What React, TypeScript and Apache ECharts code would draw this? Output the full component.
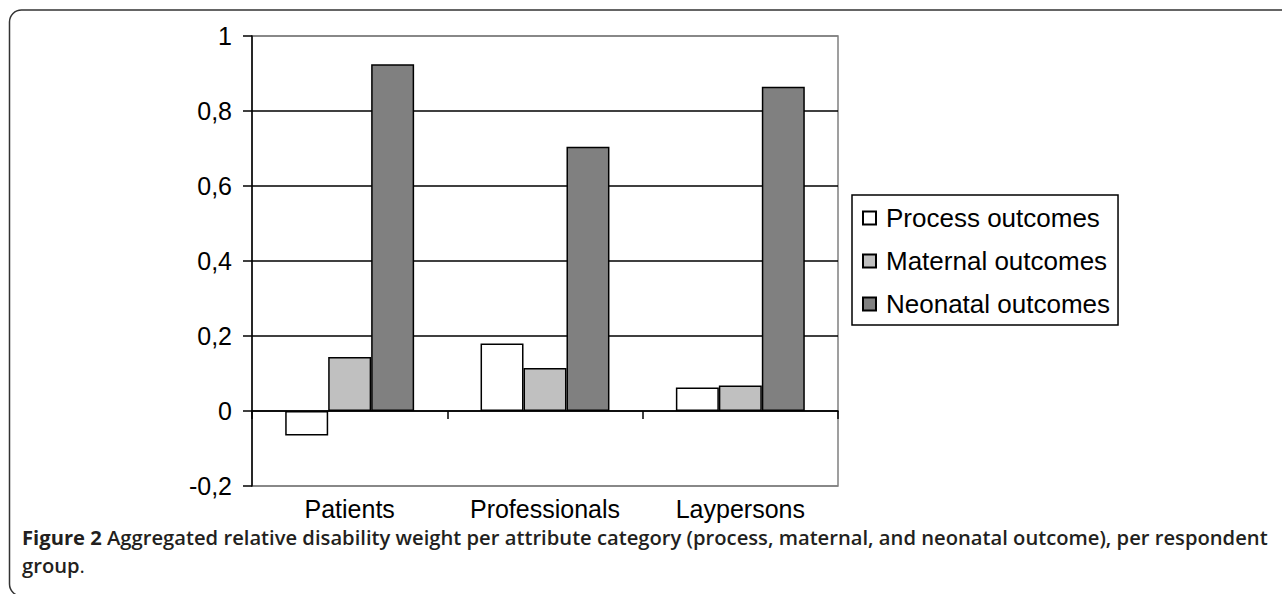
import React, { useEffect, useRef } from "react";
import * as echarts from "echarts";

const categories = ["Patients", "Professionals", "Laypersons"];
const seriesNames = ["Process outcomes", "Maternal outcomes", "Neonatal outcomes"];
const processValues = [-0.065, 0.18, 0.063];
const maternalValues = [0.144, 0.115, 0.068];
const neonatalValues = [0.925, 0.705, 0.865];
const seriesColors = ["#ffffff", "#c0c0c0", "#808080"];
const captionBold = "Figure 2";
const captionRest1 = " Aggregated relative disability weight per attribute category (process, maternal, and neonatal outcome), per respondent";
const captionRest2 = "group";

export default function App() {
  const ref = useRef<HTMLDivElement>(null);
  useEffect(() => {
    document.body.style.margin = "0";
    const chart = echarts.init(ref.current!, null, { renderer: "svg" });
    const values = [processValues, maternalValues, neonatalValues];
    const font = "'Liberation Sans', Arial, sans-serif";
    const capFont = "'Open Sans', sans-serif";
    chart.setOption({
      animation: false,
      backgroundColor: "#ffffff",
      textStyle: { fontFamily: font },
      grid: {
        left: 252,
        top: 36,
        width: 586,
        height: 450,
        show: true,
        borderColor: "#808080",
        borderWidth: 1.5,
        backgroundColor: "transparent",
      },
      legend: {
        orient: "vertical",
        left: 852,
        top: 195,
        padding: [10, 8, 8, 10],
        borderColor: "#000",
        borderWidth: 1.5,
        borderRadius: 0,
        itemWidth: 13,
        itemHeight: 13,
        itemGap: 17,
        icon: "rect",
        textStyle: { fontSize: 26, color: "#000", fontFamily: font, padding: [0, 0, 0, 5] },
        data: seriesNames,
      },
      xAxis: [
        {
          type: "category",
          data: categories,
          axisLine: { onZero: true, lineStyle: { color: "#000", width: 1.5 } },
          axisTick: { show: true, length: 8, lineStyle: { color: "#000", width: 1.5 } },
          axisLabel: { show: false },
          splitLine: { show: false },
        },
        {
          type: "category",
          data: categories,
          position: "bottom",
          offset: 0,
          axisLine: { show: false, onZero: false },
          axisTick: { show: false },
          axisLabel: { show: true, fontSize: 25, color: "#000", margin: 10, fontFamily: font },
          splitLine: { show: false },
        },
      ],
      yAxis: {
        type: "value",
        min: -0.2,
        max: 1,
        interval: 0.2,
        axisLine: { show: true, lineStyle: { color: "#000", width: 1.5 } },
        axisTick: { show: true, length: 9, lineStyle: { color: "#000", width: 1.5 } },
        axisLabel: {
          fontSize: 25,
          color: "#000",
          margin: 20,
          fontFamily: font,
          formatter: (v: number) => String(Math.round(v * 10) / 10).replace(".", ","),
        },
        splitLine: {
          show: true,
          lineStyle: {
            color: ["#808080", "#000", "#000", "#000", "#000", "#000", "#808080"],
            width: 1.5,
          },
        },
      },
      series: seriesNames.map((name, i) => ({
        name,
        type: "bar",
        xAxisIndex: 0,
        data: values[i],
        barGap: "0%",
        barCategoryGap: "34%",
        itemStyle: { color: seriesColors[i], borderColor: "#000", borderWidth: 1.5 },
      })),
      graphic: [
        {
          type: "rect",
          shape: { x: 9.5, y: 10, width: 1500, height: 586, r: 12 },
          style: { fill: "none", stroke: "#333", lineWidth: 1.5 },
          silent: true,
        },
        {
          type: "text",
          x: 22,
          y: 537,
          style: {
            text: "{b|" + captionBold + "}{r|" + captionRest1 + "}",
            verticalAlign: "middle",
            rich: {
              b: { fontFamily: capFont, fontWeight: "bold", fontSize: 20.2, fill: "#231f20" },
              r: { fontFamily: capFont, fontWeight: 600, fontSize: 20.2, fill: "#231f20" },
            },
          },
        },
        {
          type: "text",
          x: 22,
          y: 565,
          style: {
            text: "{r|" + captionRest2 + "}{p|.}",
            verticalAlign: "middle",
            rich: {
              r: { fontFamily: capFont, fontWeight: 600, fontSize: 20.2, fill: "#231f20" },
              p: { fontFamily: capFont, fontWeight: "normal", fontSize: 20.2, fill: "#231f20" },
            },
          },
        },
      ],
    });
    return () => chart.dispose();
  }, []);
  return <div ref={ref} style={{ width: 1282, height: 594 }} />;
}
